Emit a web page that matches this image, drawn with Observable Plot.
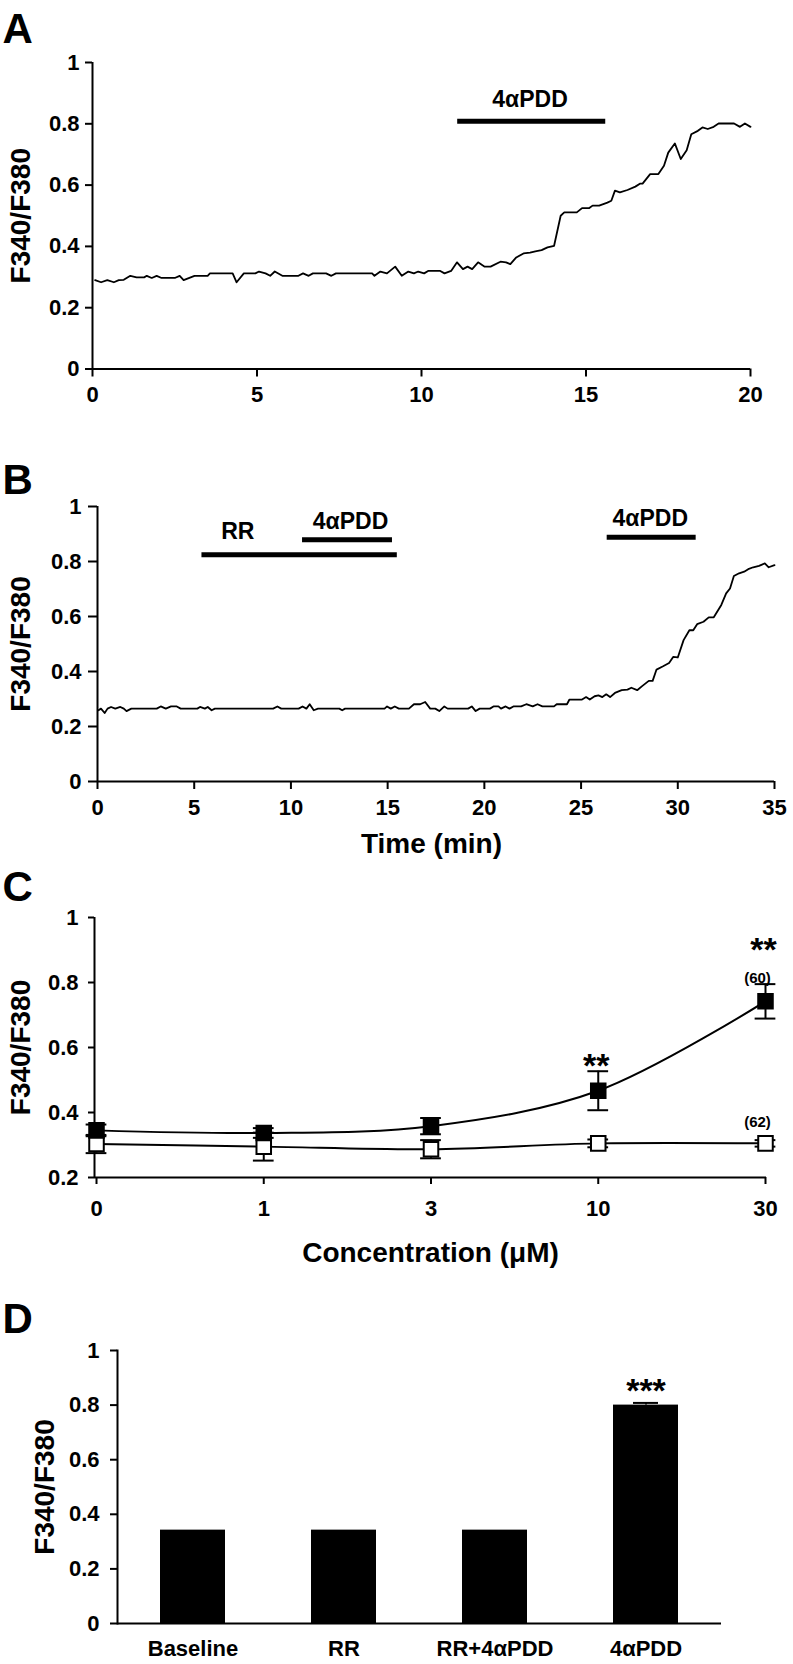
<!DOCTYPE html>
<html>
<head>
<meta charset="utf-8">
<script src="https://cdn.jsdelivr.net/npm/d3@7"></script>
<script src="https://cdn.jsdelivr.net/npm/@observablehq/plot@0.6"></script>
<style>
  body { margin: 0; background: #fff; }
  #chart { width: 793px; }
  #chart svg { display: block; }
</style>
</head>
<body>
<div id="chart"></div>
<script>
// ---------- Panel A: single-cell trace ----------
const timeA = [0.08,0.26,0.45,0.65,0.8,0.95,1.15,1.34,1.57,1.65,1.8,1.95,2.1,2.5,2.65,2.77,3.1,3.5,3.57,4.26,4.38,4.6,4.95,5.06,5.26,5.4,5.54,5.77,6.26,6.4,6.57,6.7,7.1,7.26,7.4,8.5,8.57,8.75,8.95,9.2,9.4,9.6,9.77,9.9,10.08,10.2,10.57,10.7,10.9,11.08,11.26,11.4,11.54,11.72,11.92,12.1,12.4,12.57,12.7,12.88,13.1,13.3,13.46,13.65,13.83,14.03,14.23,14.34,14.72,14.88,15.1,15.2,15.4,15.65,15.77,15.88,16.03,16.26,16.5,16.65,16.72,16.95,17.2,17.37,17.5,17.7,17.88,18.06,18.2,18.4,18.54,18.7,18.88,19.03,19.5,19.68,19.83,20.0];
const ratioA = [0.29,0.283,0.29,0.283,0.29,0.291,0.304,0.299,0.299,0.304,0.297,0.304,0.297,0.297,0.304,0.29,0.304,0.304,0.312,0.312,0.283,0.312,0.312,0.318,0.312,0.304,0.318,0.304,0.304,0.312,0.304,0.312,0.312,0.304,0.312,0.312,0.304,0.318,0.312,0.334,0.304,0.318,0.312,0.318,0.312,0.32,0.32,0.312,0.32,0.348,0.326,0.334,0.326,0.348,0.334,0.334,0.35,0.348,0.342,0.364,0.377,0.38,0.384,0.388,0.397,0.402,0.5,0.511,0.511,0.525,0.525,0.533,0.533,0.543,0.549,0.582,0.576,0.584,0.595,0.605,0.605,0.636,0.636,0.663,0.706,0.736,0.685,0.714,0.766,0.777,0.788,0.783,0.79,0.801,0.801,0.79,0.801,0.79];
const treatA = [{agent: "4αPDD", start: 11.1, end: 15.6}];

// ---------- Panel B: trace with ruthenium red ----------
const timeB = [0.05,0.18,0.37,0.52,0.7,0.92,1.18,1.36,1.5,1.75,3.06,3.27,3.53,3.8,4.1,4.3,5.16,5.3,5.55,5.7,5.9,6.07,9.08,9.3,9.5,10.4,10.6,10.8,10.97,11.18,11.4,12.5,12.65,12.8,14.84,14.97,15.16,15.37,15.58,16.1,16.36,16.68,16.94,17.2,17.46,17.67,17.93,18.1,19.16,19.35,19.55,19.76,20.29,20.47,20.73,20.86,21.1,21.3,21.5,21.9,22.17,22.5,22.75,23.0,23.6,23.74,24.27,24.4,25.05,25.26,25.45,25.7,25.9,26.1,26.3,26.5,26.75,27.1,27.4,27.6,27.9,28.14,28.5,28.7,28.9,29.24,29.55,29.76,30.0,30.3,30.6,30.8,31.0,31.33,31.6,31.86,32.25,32.5,32.7,32.9,33.17,33.43,33.64,33.9,34.2,34.5,34.7,35.0];
const ratioB = [0.259,0.265,0.249,0.265,0.271,0.265,0.271,0.265,0.256,0.265,0.265,0.273,0.265,0.273,0.273,0.265,0.265,0.271,0.265,0.271,0.259,0.265,0.265,0.273,0.265,0.265,0.273,0.265,0.281,0.259,0.265,0.265,0.259,0.265,0.265,0.273,0.265,0.273,0.265,0.265,0.281,0.281,0.289,0.265,0.265,0.256,0.273,0.265,0.265,0.273,0.256,0.265,0.265,0.273,0.273,0.265,0.273,0.265,0.273,0.273,0.281,0.273,0.281,0.273,0.273,0.281,0.281,0.298,0.298,0.307,0.298,0.31,0.313,0.307,0.317,0.307,0.322,0.332,0.334,0.341,0.332,0.346,0.366,0.366,0.407,0.419,0.431,0.453,0.451,0.514,0.55,0.55,0.572,0.581,0.597,0.597,0.642,0.684,0.702,0.747,0.757,0.763,0.772,0.779,0.784,0.793,0.779,0.787];
const treatB = [
  {agent: "RR", start: 5.4, end: 15.5},
  {agent: "4αPDD", start: 10.6, end: 15.25},
  {agent: "4αPDD", start: 26.35, end: 30.95}
];

// ---------- Panel C: concentration response ----------
const concLabels = ["0", "1", "3", "10", "30"];
const agonistMean = [0.345, 0.337, 0.358, 0.467, 0.742];
const agonistErr  = [0.018, 0.015, 0.025, 0.06, 0.053];
const controlMean = [0.303, 0.295, 0.287, 0.305, 0.305];
const controlErr  = [0.028, 0.043, 0.028, 0.012, 0.01];
const nLabels = [{conc: "30", label: "(60)", series: "agonist"}, {conc: "30", label: "(62)", series: "control"}];
const sigC = [{conc: "10", label: "**"}, {conc: "30", label: "**"}];

// ---------- Panel D: summary bars ----------
const groups = ["Baseline", "RR", "RR+4αPDD", "4αPDD"];
const groupMean = [0.342, 0.342, 0.342, 0.800];
const groupErr  = [0, 0, 0, 0.008];
const sigD = [{group: "4αPDD", label: "***"}];

// ---------- helpers ----------
const FONT = "'Liberation Sans', Arial, Helvetica, sans-serif";
const fmt = d3.format("~g");
const TICK_FS = 22, TITLE_FS = 28, LETTER_FS = 42, TREAT_FS = 23;
const baseStyle = {background: "white", fontFamily: FONT, fontWeight: "bold", fontSize: TICK_FS + "px", overflow: "visible", color: "black"};

function letterMark(letter, m, baseline) {
  return Plot.text([letter], {text: d => d, frameAnchor: "top-left", dx: 2 - m.left, dy: baseline - m.top,
    textAnchor: "start", lineAnchor: "bottom", fontSize: LETTER_FS, fontWeight: "bold", fontFamily: FONT});
}
function yTitleMark(m, cx) {
  return Plot.text(["F340/F380"], {text: d => d, frameAnchor: "left", rotate: -90, dx: cx - m.left,
    textAnchor: "middle", lineAnchor: "middle", fontSize: TITLE_FS, fontWeight: "bold", fontFamily: FONT});
}
function yAxisMark(ticks, size, pad) {
  return Plot.axisY({ticks, tickFormat: fmt, tickSize: size, tickPadding: pad, strokeWidth: 2,
    fontSize: TICK_FS, fontWeight: "bold", fontFamily: FONT, label: null});
}

const chart = document.getElementById("chart");

// ---------- A ----------
{
  const m = {top: 62, bottom: 51.5, left: 92, right: 43};
  const traceA = timeA.map((t, i) => ({t, r: ratioA[i]}));
  const barLevelA = [0.808];
  const labelPosA = [{x: 13.3, y: 0.878}];
  chart.append(Plot.plot({
    width: 793, height: 420,
    marginTop: m.top, marginBottom: m.bottom, marginLeft: m.left, marginRight: m.right,
    style: baseStyle,
    x: {domain: [0, 20]},
    y: {domain: [0, 1]},
    marks: [
      Plot.ruleX([0], {strokeWidth: 2}),
      Plot.ruleY([0], {strokeWidth: 2}),
      yAxisMark([0, 0.2, 0.4, 0.6, 0.8, 1], 7, 6),
      Plot.axisX({ticks: [0, 5, 10, 15, 20], tickSize: 8, tickPadding: 9, strokeWidth: 2, fontSize: TICK_FS, fontWeight: "bold", fontFamily: FONT, label: null}),
      Plot.line(traceA, {x: "t", y: "r", stroke: "black", strokeWidth: 1.8}),
      Plot.ruleY(treatA, {x1: "start", x2: "end", y: (d, i) => barLevelA[i], strokeWidth: 5}),
      Plot.text(treatA, {x: (d, i) => labelPosA[i].x, y: (d, i) => labelPosA[i].y, text: "agent", fontSize: TREAT_FS, fontWeight: "bold", fontFamily: FONT}),
      letterMark("A", m, 42),
      yTitleMark(m, 21)
    ]
  }));
}

// ---------- B ----------
{
  const m = {top: 86, bottom: 79, left: 97, right: 19};
  const traceB = timeB.map((t, i) => ({t, r: ratioB[i]}));
  const barLevelB = [0.825, 0.879, 0.888];
  const labelPosB = [{x: 7.25, y: 0.91}, {x: 13.08, y: 0.946}, {x: 28.58, y: 0.955}];
  chart.append(Plot.plot({
    width: 793, height: 440,
    marginTop: m.top, marginBottom: m.bottom, marginLeft: m.left, marginRight: m.right,
    style: baseStyle,
    x: {domain: [0, 35]},
    y: {domain: [0, 1]},
    marks: [
      Plot.ruleX([0], {strokeWidth: 2}),
      Plot.ruleY([0], {strokeWidth: 2}),
      yAxisMark([0, 0.2, 0.4, 0.6, 0.8, 1], 9, 7),
      Plot.axisX({ticks: [0, 5, 10, 15, 20, 25, 30, 35], tickSize: 8, tickPadding: 10, strokeWidth: 2, fontSize: TICK_FS, fontWeight: "bold", fontFamily: FONT, label: null}),
      Plot.line(traceB, {x: "t", y: "r", stroke: "black", strokeWidth: 1.8}),
      Plot.ruleY(treatB, {x1: "start", x2: "end", y: (d, i) => barLevelB[i], strokeWidth: 5}),
      Plot.text(treatB, {x: (d, i) => labelPosB[i].x, y: (d, i) => labelPosB[i].y, text: "agent", fontSize: TREAT_FS, fontWeight: "bold", fontFamily: FONT}),
      Plot.text(["Time (min)"], {text: d => d, frameAnchor: "bottom", dy: 63, dx: -4.5, lineAnchor: "middle", fontSize: TITLE_FS, fontWeight: "bold", fontFamily: FONT}),
      letterMark("B", m, 73),
      yTitleMark(m, 21)
    ]
  }));
}

// ---------- C ----------
{
  const m = {top: 57, bottom: 93, left: 94, right: 27};
  const idx = c => concLabels.indexOf(c);
  const agonist = concLabels.map((c, i) => ({i, mean: agonistMean[i], err: agonistErr[i]}));
  const control = concLabels.map((c, i) => ({i, mean: controlMean[i], err: controlErr[i]}));
  const capHalf = 0.062;
  const sigY = [0.508, 0.865];
  const nY = [0.812, 0.369];
  const errMarks = (data) => [
    Plot.ruleX(data, {x: "i", y1: d => d.mean - d.err, y2: d => d.mean + d.err, strokeWidth: 2}),
    Plot.ruleY(data, {x1: d => d.i - capHalf, x2: d => d.i + capHalf, y: d => d.mean + d.err, strokeWidth: 2}),
    Plot.ruleY(data, {x1: d => d.i - capHalf, x2: d => d.i + capHalf, y: d => d.mean - d.err, strokeWidth: 2})
  ];
  chart.append(Plot.plot({
    width: 793, height: 410,
    marginTop: m.top, marginBottom: m.bottom, marginLeft: m.left, marginRight: m.right,
    style: baseStyle,
    x: {domain: [-0.012, 4.006]},
    y: {domain: [0.2, 1]},
    marks: [
      Plot.ruleX([-0.012], {strokeWidth: 2}),
      Plot.ruleY([0.2], {strokeWidth: 2}),
      yAxisMark([0.2, 0.4, 0.6, 0.8, 1], 6, 10),
      Plot.axisX({ticks: concLabels.map((c, i) => i), tickFormat: i => concLabels[i], tickSize: 7, tickPadding: 16, strokeWidth: 2, fontSize: TICK_FS, fontWeight: "bold", fontFamily: FONT, label: null}),
      Plot.line(control, {x: "i", y: "mean", curve: "catmull-rom", stroke: "black", strokeWidth: 2}),
      Plot.line(agonist, {x: "i", y: "mean", curve: "catmull-rom", stroke: "black", strokeWidth: 2}),
      ...errMarks(control),
      ...errMarks(agonist),
      Plot.dot(control, {x: "i", y: "mean", symbol: "square", r: 8.2, fill: "white", stroke: "black", strokeWidth: 2}),
      Plot.dot(agonist, {x: "i", y: "mean", symbol: "square", r: 8.2, fill: "black", stroke: "black", strokeWidth: 2}),
      Plot.text(sigC, {x: d => idx(d.conc), y: (d, i) => sigY[i], text: "label", dx: -2, lineAnchor: "bottom", fontSize: 34, fontWeight: "bold", fontFamily: FONT}),
      Plot.text(nLabels, {x: d => idx(d.conc), y: (d, i) => nY[i], text: "label", dx: -8, lineAnchor: "middle", fontSize: 15, fontWeight: "bold", fontFamily: FONT}),
      Plot.text(["Concentration (μM)"], {text: d => d, frameAnchor: "bottom", dy: 76, lineAnchor: "middle", fontSize: TITLE_FS, fontWeight: "bold", fontFamily: FONT}),
      letterMark("C", m, 900 - 860),
      yTitleMark(m, 21)
    ]
  }));
}

// ---------- D ----------
{
  const m = {top: 80, bottom: 41, left: 117, right: 72};
  const dData = groups.map((g, i) => ({group: g, mean: groupMean[i], err: groupErr[i]}));
  const withErr = dData.filter(d => d.err > 0);
  const sigYD = [0.811];
  chart.append(Plot.plot({
    width: 793, height: 394,
    marginTop: m.top, marginBottom: m.bottom, marginLeft: m.left, marginRight: m.right,
    style: baseStyle,
    x: {domain: groups, paddingInner: 0.57, paddingOuter: 0.285},
    y: {domain: [0, 1]},
    marks: [
      Plot.barY(dData, {x: "group", y: "mean", fill: "black"}),
      Plot.ruleX(withErr, {x: "group", y1: "mean", y2: d => d.mean + d.err, strokeWidth: 2}),
      Plot.tickY(withErr, {x: "group", y: d => d.mean + d.err, insetLeft: 20, insetRight: 20, strokeWidth: 2}),
      Plot.frame({anchor: "left", strokeWidth: 2}),
      Plot.ruleY([0], {strokeWidth: 2}),
      yAxisMark([0, 0.2, 0.4, 0.6, 0.8, 1], 7, 11),
      Plot.axisX({tickSize: 0, tickPadding: 17, fontSize: TICK_FS, fontWeight: "bold", fontFamily: FONT, label: null}),
      Plot.text(sigD, {x: "group", y: (d, i) => sigYD[i], text: "label", lineAnchor: "bottom", fontSize: 34, fontWeight: "bold", fontFamily: FONT}),
      letterMark("D", m, 1332 - 1270),
      yTitleMark(m, 45)
    ]
  }));
}
</script>
</body>
</html>
